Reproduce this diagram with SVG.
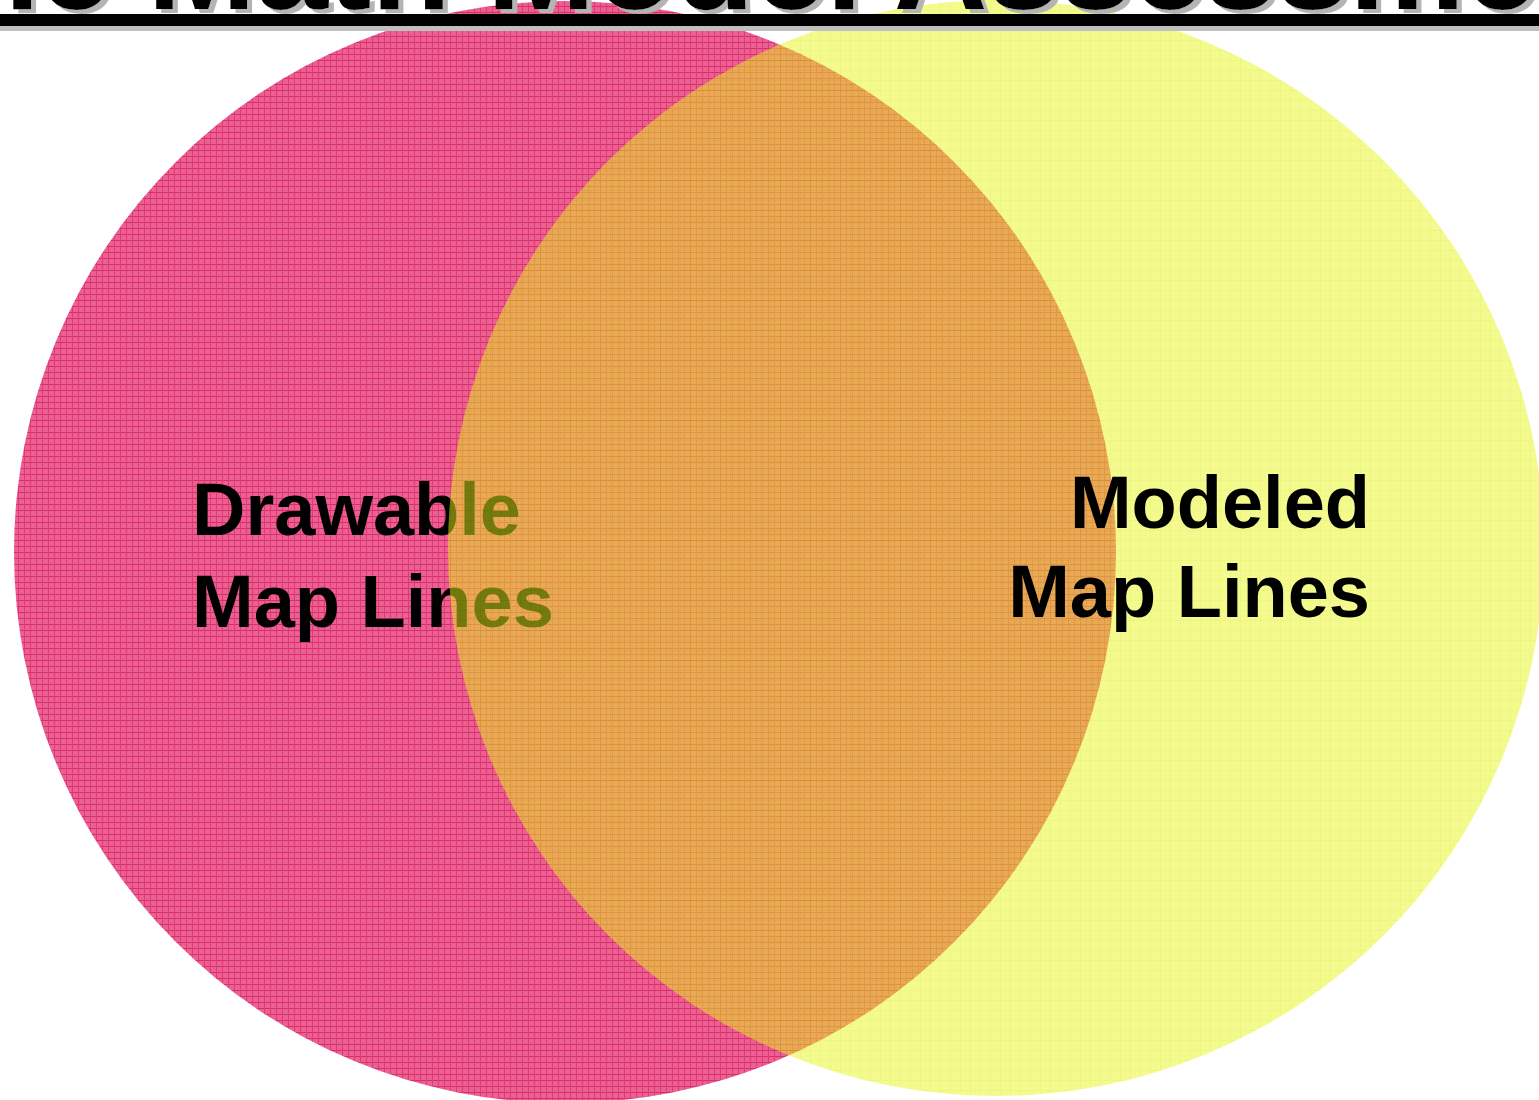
<svg xmlns="http://www.w3.org/2000/svg" width="1539" height="1100" viewBox="0 0 1539 1100">
  <style>
    .label { font-family: "Liberation Sans", Arial, sans-serif; font-weight: bold; font-size: 74px; fill: #000000; }
    .title { font-family: "Liberation Sans", Arial, sans-serif; font-weight: bold; font-size: 130px; fill: #000000; }
  </style>
  <defs>
    <pattern id="pinkTex" width="6" height="6" patternUnits="userSpaceOnUse">
      <rect width="6" height="6" fill="#EA6092"/>
      <rect width="6" height="1" fill="#DC2C68"/>
      <rect width="1" height="6" fill="#E13A72"/>
    </pattern>
    <pattern id="yellowTex" width="10" height="10" patternUnits="userSpaceOnUse">
      <rect width="10" height="10" fill="#E8F41E"/>
      <rect width="10" height="1" fill="#D6F000"/>
      <rect width="1" height="10" fill="#D6F000"/>
    </pattern>
    <filter id="shadow" x="-5%" y="-20%" width="110%" height="160%">
      <feOffset in="SourceAlpha" dx="5" dy="4" result="off"/>
      <feFlood flood-color="#B4B4B4"/>
      <feComposite in2="off" operator="in" result="sh"/>
      <feMerge>
        <feMergeNode in="sh"/>
        <feMergeNode in="SourceGraphic"/>
      </feMerge>
    </filter>
  </defs>

  <rect width="1539" height="1100" fill="#FFFFFF"/>

  <g id="drawable-set">
    <circle cx="565" cy="552" r="551" fill="url(#pinkTex)"/>
  </g>

  <g id="drawable-label">
    <text class="label" x="192" y="535">Drawable</text>
    <text class="label" x="192" y="627">Map Lines</text>
  </g>

  <g id="modeled-set">
    <circle cx="996" cy="548" r="548" fill="url(#yellowTex)" opacity="0.5"/>
  </g>

  <g id="modeled-label">
    <text class="label" x="1370" y="528" text-anchor="end">Modeled</text>
    <text class="label" x="1370" y="617" text-anchor="end">Map Lines</text>
  </g>

  <g id="title">
    <text class="title" x="770" y="9" text-anchor="middle" filter="url(#shadow)">The Math Model Assessment</text>
    <rect x="0" y="19" width="1539" height="12" fill="#C0C0C0"/>
    <rect x="0" y="14" width="1539" height="12" fill="#000000"/>
  </g>
</svg>
